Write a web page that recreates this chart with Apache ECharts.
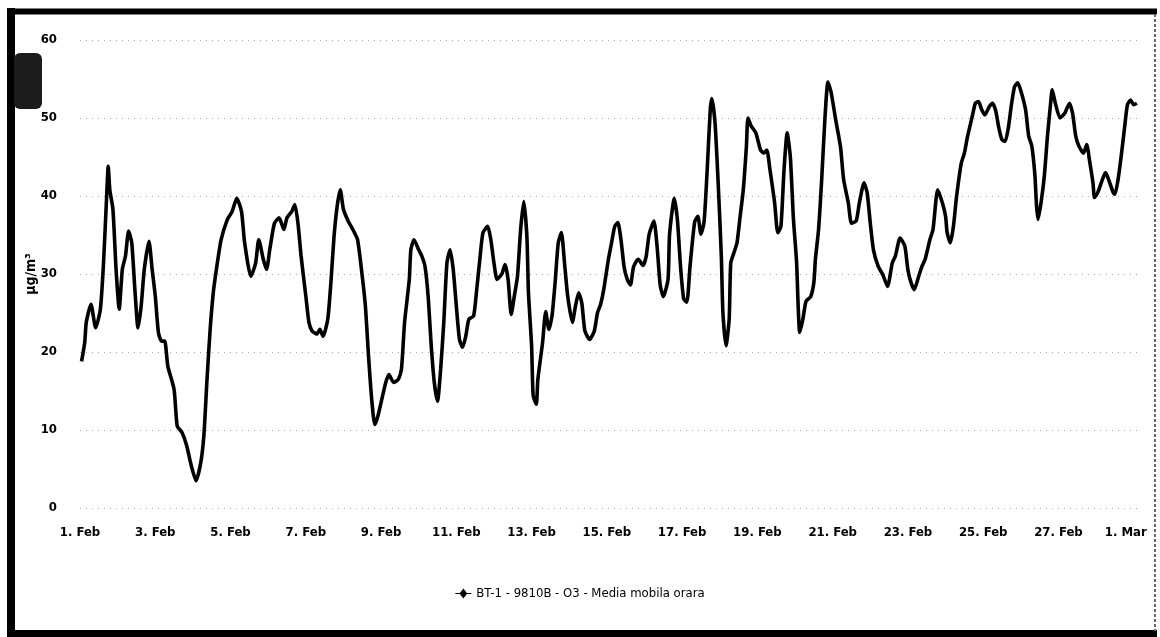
<!DOCTYPE html>
<html><head><meta charset="utf-8">
<script src="https://cdn.jsdelivr.net/npm/echarts@6/dist/echarts.min.js"></script>
<style>html,body{margin:0;padding:0;background:#fff;}#c{width:1160px;height:637px;}</style>
</head><body><div id="c"></div>
<script>
// ---- data (x = hours since 1 Feb 00:00, y = O3 µg/m³) ----
const seriesName = 'BT-1 - 9810B - O3 - Media mobila orara';
const yAxisTitle = 'µg/m³';
const monthLabels = ['Feb', 'Mar'];
const daysInFeb = 28;
const hoursPerTick = 48;

const week1 = [[1,18.8],[3,21.2],[4,23.8],[7,26.1],[10,23.1],[13,25.5],[15,31.4],[17,40],[18,43.8],[19,40.8],
  [21,38.3],[23,30.6],[25,25.5],[27,30.6],[29,32.3],[31,35.5],[33,34],[35,28],[37,23.1],[39,25.9],
  [41,30.6],[44,34.2],[46,30.6],[48,27.2],[50,22.5],[52,21.4],[54,21.4],[56,18.2],[60,15.2],[62,10.5],
  [65,9.7],[68,8],[71,5.4],[74,3.5],[77,5.8],[79,9.3],[81,16.5],[83,22.9],[85,27.6],[87,30.6],
  [90,34.4],[94,37],[97,38],[100,39.7],[103,38],[105,34],[109,29.7],[112,31.4],[114,34.4],[117,31.8],
  [119,30.6],[121,33.1],[124,36.5],[127,37.2],[130,35.7],[132,37.2],[135,38],[137,38.9],[139,36.5],[141,32.3],
  [144,27.2],[146,23.8],[148,22.7],[151,22.3],[153,22.9],[155,22],[158,24.2],[160,28.9],[162,34.8],[164,38.7]];
const week2 = [[166,40.8],[168,38.3],[171,36.8],[174,35.7],[177,34.4],[180,29.7],[182,25.9],[184,19.5],[186,14],[188,10.7],
  [190,11.8],[193,14.4],[195,16.1],[197,17.1],[200,16.1],[203,16.5],[205,17.8],[207,23.8],[210,29.3],[211,33.1],
  [213,34.4],[216,33.1],[218,32.3],[220,31],[222,27.2],[224,20.8],[226,16],[228,13.7],[230,17.8],[232,23.8],
  [234,31.4],[236,33.1],[238,30.6],[240,25.9],[242,21.6],[244,20.6],[246,22],[248,24.2],[251,24.6],[253,28],
  [255,31.9],[257,35.3],[260,36.1],[262,34.4],[264,31.4],[266,29.3],[269,30],[271,31.2],[273,29.3],[275,24.8],
  [277,27.2],[279,29.7],[281,35.7],[283,39.3],[285,34.8],[286,27.6],[288,20.8],[289,14.4],[291,13.3],[292,16.5],
  [295,21.2],[297,25.2],[299,22.9],[301,24.6],[303,28.9],[305,34],[307,35.3],[309,31.4],[311,27.2],[314,23.8],
  [316,25.9],[318,27.6],[320,26.3],[322,22.7],[325,21.6],[328,22.7],[330,25],[332,26.1],[334,28],[337,31.9]];
const week3 = [[339,34],[341,36.1],[343,36.6],[345,34.4],[347,30.9],[349,29.3],[351,28.6],[353,30.9],[356,31.9],[359,31.1],
  [361,32.2],[363,35.1],[366,36.8],[368,33.6],[370,28.6],[372,27.1],[375,29.3],[376,35.1],[379,39.7],[381,36.9],
  [383,30.9],[385,26.8],[387,26.4],[389,30.9],[392,36.7],[394,37.4],[396,35.1],[398,36.7],[400,43.4],[402,51.3],
  [403,52.5],[405,49.3],[407,41.6],[409,32.3],[410,25.1],[412,20.8],[414,24.2],[415,31.4],[417,32.7],[419,34],
  [421,37.4],[423,40.8],[425,46.4],[426,50],[428,49],[431,48.1],[434,45.9],[436,45.5],[438,45.9],[440,43.4],
  [443,39.1],[445,35.3],[447,36.1],[449,43.4],[451,48.1],[453,45],[455,37],[457,31.5],[458,25.9],[459,22.5],
  [461,24.2],[463,26.5],[466,27.1],[468,28.9],[469,31.9],[471,35.7],[473,42.1],[475,49.7],[477,54.6],[479,53.3],
  [482,49.7],[485,46.3],[487,42.1],[490,39.1],[492,36.5],[495,36.8],[497,39.1],[500,41.7],[502,40.4],[504,36.5]];
const week4 = [[506,33.1],[509,31],[512,29.9],[515,28.4],[518,31.4],[520,32.3],[523,34.6],[526,33.6],[528,30.5],[530,28.9],
  [532,28],[535,29.8],[537,31],[539,31.9],[542,34.4],[544,35.7],[547,40.8],[550,39.1],[552,37.4],[553,35.3],
  [555,34],[557,36.1],[559,39.9],[562,44.2],[564,45.5],[566,47.6],[569,50.2],[571,51.9],[573,52.1],[575,51.1],
  [577,50.4],[580,51.5],[582,51.9],[584,50.9],[586,48.7],[588,47.2],[590,47],[592,48.7],[594,51.7],[596,54],
  [598,54.5],[600,53.5],[603,51.1],[605,47.7],[607,46.4],[609,42.6],[610,38.8],[611,37],[613,39.3],[615,42.6],
  [617,47.7],[619,51.9],[620,53.6],[622,51.9],[625,50],[628,50.6],[631,51.9],[633,50.6],[635,47.7],[637,46.4],
  [640,45.5],[642,46.6],[644,44.3],[646,41.7],[647,39.8],[649,40.4],[652,42.1],[654,43],[656,42.1],[659,40.4],
  [660,40.2],[662,42.1],[664,45.1],[666,48.5],[668,51.7],[670,52.3],[672,51.7],[674,51.9]];

// ---- chart ----
const font = "'DejaVu Sans Condensed', 'Liberation Sans Narrow', sans-serif";
const chart = echarts.init(document.getElementById('c'), null, {renderer: 'canvas'});
function dayLabel(h) {
  const d = Math.round(h / 24) + 1;
  if (d <= daysInFeb) return d + '. ' + monthLabels[0];
  return '{last|' + (d - daysInFeb) + '. ' + monthLabels[1] + '}';
}
const labelStyle = {fontFamily: font, fontSize: 13, fontWeight: 'bold', color: '#000'};
chart.setOption({
  animation: false,
  backgroundColor: '#fff',
  grid: {left: 80, right: 20, top: 40, bottom: 129},
  legend: {
    data: [seriesName], left: 'center', top: 582,
    icon: 'path://M0,4.4L4.5,4.4L8,0L11.5,4.4L16,4.4L16,5.6L11.5,5.6L8,10L4.5,5.6L0,5.6Z',
    itemWidth: 16, itemHeight: 13, itemGap: 6,
    textStyle: {fontFamily: font, fontSize: 13, color: '#000'}
  },
  xAxis: {
    type: 'value', min: 0, max: 676, interval: hoursPerTick,
    axisLine: {show: false}, axisTick: {show: false}, splitLine: {show: false},
    axisLabel: Object.assign({formatter: dayLabel, showMaxLabel: false, margin: 18,
      rich: {last: Object.assign({padding: [0, 16, 0, 0]}, labelStyle)}}, labelStyle)
  },
  yAxis: {
    type: 'value', min: 0, max: 60, interval: 10,
    name: yAxisTitle, nameLocation: 'middle', nameGap: 42, nameRotate: 90, nameMoveOverlap: false,
    nameTextStyle: {fontFamily: font, fontSize: 14, fontWeight: 'bold', color: '#000'},
    axisLine: {show: false}, axisTick: {show: false},
    splitLine: {lineStyle: {color: '#aaa', width: 1, type: [1, 5]}},
    axisLabel: Object.assign({margin: 23}, labelStyle)
  },
  series: [{
    name: seriesName, type: 'line', showSymbol: false, smooth: 0.2,
    data: week1.concat(week2, week3, week4),
    itemStyle: {color: '#000'},
    lineStyle: {color: '#000', width: 3.6}
  }],
  graphic: [
    {type: 'line', shape: {x1: 7, y1: 11.5, x2: 1157, y2: 11.5}, style: {stroke: '#000', lineWidth: 6}},
    {type: 'line', shape: {x1: 11, y1: 8, x2: 11, y2: 637}, style: {stroke: '#000', lineWidth: 8}},
    {type: 'line', shape: {x1: 7, y1: 633.5, x2: 1157, y2: 633.5}, style: {stroke: '#000', lineWidth: 7}},
    {type: 'line', shape: {x1: 1155, y1: 14, x2: 1155, y2: 631}, style: {stroke: '#666', lineWidth: 2, lineDash: [3, 2]}},
    {type: 'rect', shape: {x: 14, y: 53, width: 28, height: 56, r: 6}, style: {fill: '#1c1c1c'}}
  ]
});
</script></body></html>
